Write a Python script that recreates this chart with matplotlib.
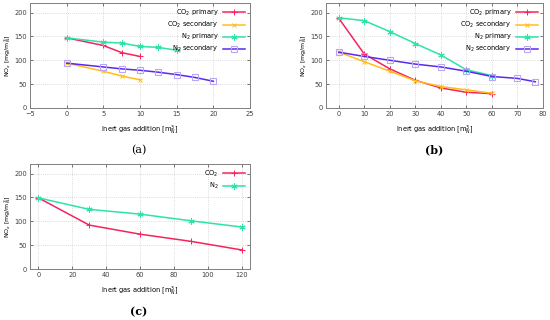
import matplotlib
matplotlib.use("Agg")
import matplotlib.pyplot as plt

# Panel (a)
a_co2p_x = [0, 5, 7.5, 10]
a_co2p_y = [147, 131, 116, 108]
a_co2s_x = [0, 5, 7.5, 10]
a_co2s_y = [94, 77, 67, 59]
a_n2p_x = [0, 5, 7.5, 10, 12.5, 15]
a_n2p_y = [147, 138, 136, 129, 127, 121]
a_n2s_x = [0, 5, 7.5, 10, 12.5, 15, 17.5, 20]
a_n2s_y = [94, 86, 82, 79, 75, 70, 64, 56]

# Panel (b)
b_co2p_x = [0, 10, 20, 30, 40, 50, 60]
b_co2p_y = [188, 113, 82, 58, 42, 33, 30]
b_co2s_x = [0, 10, 20, 30, 40, 50, 60]
b_co2s_y = [117, 97, 77, 57, 45, 38, 31]
b_n2p_x = [0, 10, 20, 30, 40, 50, 60]
b_n2p_y = [189, 183, 160, 135, 111, 80, 68]
b_n2s_x = [0, 10, 20, 30, 40, 50, 60, 70, 77]
b_n2s_y = [117, 108, 100, 92, 86, 77, 66, 62, 55]

# Panel (c)
c_co2_x = [0, 30, 60, 90, 120]
c_co2_y = [149, 92, 73, 58, 40]
c_n2_x = [0, 30, 60, 90, 120]
c_n2_y = [149, 125, 115, 101, 88]

C_RED = "#f5245e"
C_YEL = "#ffbe1a"
C_GRN = "#2ee3a8"
C_PUR = "#5a28f0"
C_SQ = "#b9a6f5"

W, H = 550, 320
fig = plt.figure(figsize=(W / 100, H / 100), dpi=100)
plt.rcParams['font.family'] = ['DejaVu Sans']

def mkax(l, t, r, b):
    return fig.add_axes([l / W, 1 - b / H, (r - l) / W, (b - t) / H])

def style(ax, xlim, xticks):
    ax.set_xlim(*xlim)
    ax.set_ylim(0, 220)
    ax.set_xticks(xticks)
    ax.set_yticks([0, 50, 100, 150, 200])
    ax.grid(True, color="#d0d0d0", linestyle=(0, (1, 1.5)), linewidth=0.6)
    ax.set_axisbelow(True)
    for s in ax.spines.values():
        s.set_color("#808080")
        s.set_linewidth(0.7)
    ax.tick_params(labelsize=4.8, colors="#404040", length=2, width=0.5, direction="in",
                   top=True, right=True, pad=2)
    ax.set_ylabel(r'NO$_x$ [mg/m$^3_N$]', fontsize=4.5, labelpad=1)
    ax.set_xlabel(r'Inert gas addition [m$^3_N$]', fontsize=4.8, labelpad=5)

def legend(ax):
    leg = ax.legend(loc="upper right", fontsize=4.8, markerfirst=False, frameon=False,
                    handlelength=3.4, labelspacing=0.3, borderaxespad=0.3, handletextpad=0.6)
    for t in leg.get_texts():
        t.set_ha("right")
    return leg

lw = 1.1
# (a)
ax = mkax(30, 3, 250, 108)
ax.plot(a_co2p_x, a_co2p_y, color=C_RED, lw=lw, marker="+", ms=4.5, mew=0.7, label=r'CO$_2$ primary')
ax.plot(a_co2s_x, a_co2s_y, color=C_YEL, lw=lw, marker="x", ms=3.5, mew=0.7, label=r'CO$_2$ secondary')
ax.plot(a_n2p_x, a_n2p_y, color=C_GRN, lw=lw, marker=(6, 2, 0), ms=4.5, mew=0.7, label=r'N$_2$ primary')
ax.plot(a_n2s_x, a_n2s_y, color=C_PUR, lw=lw, marker="s", ms=4.5, mfc="none", mec=C_SQ, mew=0.8, label=r'N$_2$ secondary')
style(ax, (-5, 25), [-5, 0, 5, 10, 15, 20, 25])
legend(ax)
fig.text(139 / W, 1 - 150 / H, "(a)", ha="center", va="center", fontsize=8, family="DejaVu Serif")

# (b)
ax = mkax(326, 3, 543, 108)
ax.plot(b_co2p_x, b_co2p_y, color=C_RED, lw=lw, marker="+", ms=4.5, mew=0.7, label=r'CO$_2$ primary')
ax.plot(b_co2s_x, b_co2s_y, color=C_YEL, lw=lw, marker="x", ms=3.5, mew=0.7, label=r'CO$_2$ secondary')
ax.plot(b_n2p_x, b_n2p_y, color=C_GRN, lw=lw, marker=(6, 2, 0), ms=4.5, mew=0.7, label=r'N$_2$ primary')
ax.plot(b_n2s_x, b_n2s_y, color=C_PUR, lw=lw, marker="s", ms=4.5, mfc="none", mec=C_SQ, mew=0.8, label=r'N$_2$ secondary')
style(ax, (-5, 80), [0, 10, 20, 30, 40, 50, 60, 70, 80])
legend(ax)
fig.text(434 / W, 1 - 150 / H, "(b)", ha="center", va="center", fontsize=8, family="DejaVu Serif", weight="bold")

# (c)
ax = mkax(30, 164, 250, 269)
ax.plot(c_co2_x, c_co2_y, color=C_RED, lw=lw, marker="+", ms=4.5, mew=0.7, label=r'CO$_2$')
ax.plot(c_n2_x, c_n2_y, color=C_GRN, lw=lw, marker=(6, 2, 0), ms=4.5, mew=0.7, label=r'N$_2$')
style(ax, (-5, 125), [0, 20, 40, 60, 80, 100, 120])
legend(ax)
fig.text(139 / W, 1 - 312 / H, "(c)", ha="center", va="center", fontsize=8, family="DejaVu Serif", weight="bold")

fig.savefig("out.png", dpi=100)
